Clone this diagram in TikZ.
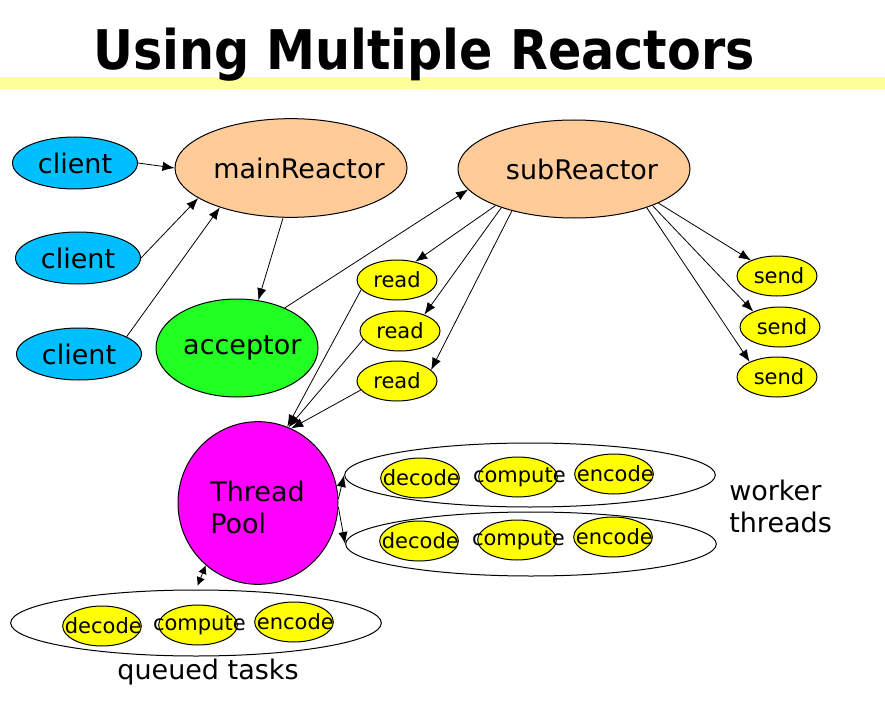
\documentclass[tikz,border=0pt]{standalone}
\usepackage{fontspec}
\setmainfont{DejaVu Sans}
\newfontfamily\titlefont{DejaVu Sans Condensed Bold}
\usetikzlibrary{shapes.geometric,arrows.meta}
\definecolor{bandyellow}{RGB}{255,255,153}
\definecolor{clientblue}{RGB}{0,191,255}
\definecolor{peach}{RGB}{255,204,153}
\definecolor{accgreen}{RGB}{34,255,34}
\definecolor{poolmag}{RGB}{255,0,255}
\definecolor{taskyellow}{RGB}{255,255,0}
\newcommand\zb[1]{\makebox[0pt]{#1}}
\tikzset{
  ell/.style={ellipse, draw=black, line width=0.75pt, inner sep=0pt},
  bigtxt/.style={font=\fontsize{20.25}{24}\selectfont},
  smalltxt/.style={font=\fontsize{15.75}{18}\selectfont},
  clientnode/.style={ell, bigtxt, fill=clientblue, minimum width=93.75pt, minimum height=39pt},
  reactor/.style={ell, bigtxt, fill=peach, minimum width=174pt, minimum height=74pt},
  accnode/.style={ell, bigtxt, fill=accgreen, minimum width=121.5pt, minimum height=73.5pt},
  poolnode/.style={ell, fill=poolmag, minimum width=120pt, minimum height=122pt},
  iotask/.style={ell, smalltxt, fill=taskyellow, minimum width=60pt, minimum height=30pt},
  worktask/.style={ell, smalltxt, fill=taskyellow, minimum width=59pt, minimum height=30pt},
  groupell/.style={ell, fill=white, minimum width=278pt, minimum height=48pt},
  arr/.style={line width=0.6pt, -{Latex[length=9pt,width=7pt]}},
  dblarr/.style={line width=0.6pt, {Latex[length=6.5pt,width=6.5pt]}-{Latex[length=6.5pt,width=6.5pt]}},
}
\begin{document}
\begin{tikzpicture}[x=0.75pt,y=-0.75pt]
\useasboundingbox (0,0) rectangle (885,713);
\fill[bandyellow] (0,77) rectangle (885,89);
\node (title) at (424,55) {\titlefont\fontsize{41}{48}\selectfont Using Multiple Reactors};

% group ellipses
\node[groupell] (w1) at (530,475) {};
\node[groupell] (w2) at (531,544) {};
\node[groupell, minimum height=49.5pt] (queue) at (196,623) {};

% main nodes
\node[clientnode] (c1) at (75,163) {\zb{client}};
\node[clientnode] (c2) at (78,258) {\zb{client}};
\node[clientnode] (c3) at (79,354) {\zb{client}};
\node[reactor] (main) at (291,168) {\zb{\hspace{12pt}mainReactor}};
\node[reactor, minimum height=73.5pt] (sub) at (574,169) {\zb{\hspace{12pt}subReactor}};
\node[accnode] (acc) at (237,348) {\zb{\raisebox{-2pt}{\hspace{8pt}acceptor}}};
\node[poolnode] (pool) at (258,503) {};
\node[bigtxt, align=left, anchor=west, inner sep=0pt] (pooltxt) at (210,507) {Thread\\Pool};

\node[iotask] (r1) at (397,280) {\zb{read}};
\node[iotask] (r2) at (400,331) {\zb{read}};
\node[iotask] (r3) at (397,381) {\zb{read}};
\node[iotask] (s1) at (777,276) {\zb{\hspace{3pt}send}};
\node[iotask] (s2) at (780,327) {\zb{\hspace{3pt}send}};
\node[iotask] (s3) at (777,377) {\zb{\hspace{3pt}send}};

\node[worktask] (d1) at (420,478) {\zb{\hspace{2pt}decode}};
\node[worktask] (p1) at (518,477) {\zb{\hspace{2pt}compute}};
\node[worktask] (e1) at (614,474) {\zb{\hspace{2pt}encode}};
\node[worktask] (d2) at (419,541) {\zb{\hspace{2pt}decode}};
\node[worktask] (p2) at (517,540) {\zb{\hspace{2pt}compute}};
\node[worktask] (e2) at (613,537) {\zb{\hspace{2pt}encode}};
\node[worktask] (d3) at (102,626) {\zb{\hspace{2pt}decode}};
\node[worktask] (p3) at (198,625) {\zb{\hspace{2pt}compute}};
\node[worktask] (e3) at (294,622) {\zb{\hspace{2pt}encode}};

\node[bigtxt, align=left, anchor=west, inner sep=0pt] (wlabel) at (729,506) {worker\\threads};
\node[bigtxt, inner sep=0pt] (qlabel) at (208,672) {queued tasks};

% connectors
\draw[arr] (c1.east) -- (main.west);
\draw[arr] (c2.east) -- (main.198);
\draw[arr] (c3.20) -- (main.209);
\draw[arr] (main.261) -- (acc.66);
\draw[arr] (acc.40) -- (sub.191);
\draw[arr] (sub.205) -- (r1.45);
\draw[arr] (sub.208) -- (r2.34);
\draw[arr] (sub.214) -- (r3.18);
\draw[arr] (sub.-22) -- (s1.149);
\draw[arr] (sub.-25) -- (s2.150);
\draw[arr] (sub.-28) -- (s3.151);
\draw[arr] (r1.195) -- (pool.69);
\draw[arr] (r2.193) -- (pool.68);
\draw[arr] (r3.194) -- (pool.66);
\draw[arr] (pool.3) -- (w1.west);
\draw[arr] (pool.-3) -- (w2.west);
\draw[dblarr, shorten >=3pt] (pool.230) -- (queue.north);
\end{tikzpicture}
\end{document}
